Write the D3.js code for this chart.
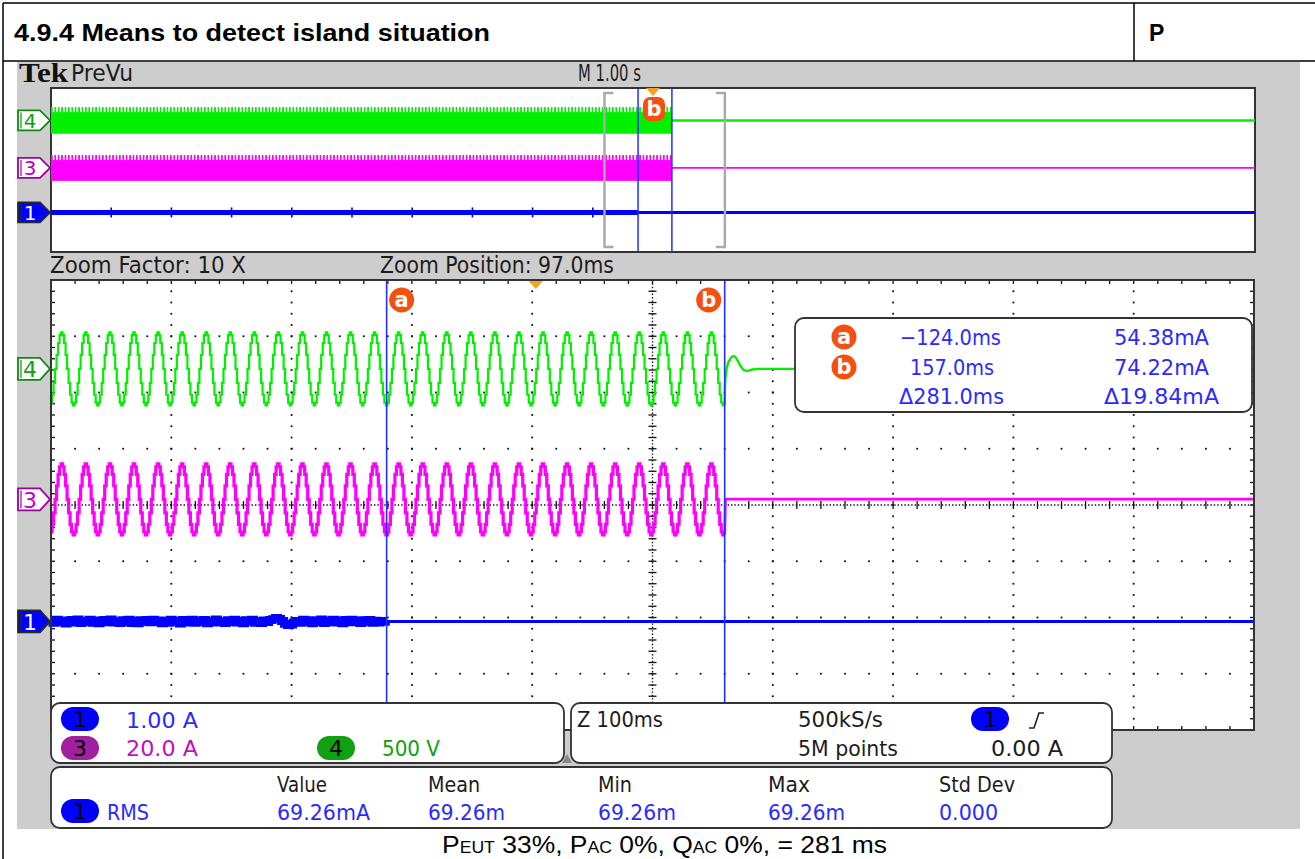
<!DOCTYPE html>
<html><head><meta charset="utf-8">
<script src="https://cdn.jsdelivr.net/npm/d3@7"></script>
<style>html,body{margin:0;padding:0;background:#fff;}svg{display:block}</style>
</head><body><svg id="c" width="1315" height="859"></svg>
<script>
// ---------------- data ----------------
const title = "4.9.4 Means to detect island situation";
const verdict = "P";
const channelIds = ["1", "3", "4"];
const channelScaleLabels = ["1.00 A", "20.0 A", "500 V"];
const channelUnitsPerDiv = [1.0, 20.0, 500];
const channelOffsetDiv = [-2.07, 0.1, 2.42];
const timebaseLabel = "M 1.00 s";
const zoomFactorLabel = "Zoom Factor: 10 X";
const zoomPositionLabel = "Zoom Position: 97.0ms";
const zoomPositionMs = 97.0;
const zoomSpanMs = 1000;
const recordSpanS = [-5, 5];
const triggerTimeMs = 0;
const cursorNames = ["a", "b"];
const cursorTimesMs = [-124.0, 157.0];
const cursorTimeLabels = ["\u2212124.0ms", "157.0ms", "\u0394281.0ms"];
const cursorValueLabels = ["54.38mA", "74.22mA", "\u039419.84mA"];
const mainsPeriodMs = 20;
// one mains cycle (16 samples), starting at the negative peak seen at cursor a
const ch4CycleV = [-325, -300, -230, -124, 0, 124, 230, 300, 325, 300, 230, 124, 0, -124, -230, -300];
const ch3CycleA = [-12.6, -11.6, -8.9, -4.8, 0, 4.8, 8.9, 11.6, 12.6, 11.6, 8.9, 4.8, 0, -4.8, -8.9, -11.6];
// ch4 after the island is detected: [ms after cursor b, volts]
const ch4AfterIsland = [[0, -325], [0.4, -120], [2, 20], [5, 95], [7.5, 115], [10, 88], [13, 30], [16, -12], [19, -18], [23, -6], [28, 0], [440, 0]];
const ch3AfterIslandA = 0.1;
// ch1 current noise, one value every 2.5 ms from the left edge of the zoom up to cursor a (mA)
const ch1NoiseMa = [12, -25, 30, -10, 18, -35, 8, 26, -18, 34, -28, 10, -6, 28, -22, 16, -30, 8, 24, -14,
  36, -20, 4, -28, 20, -8, 30, -26, 12, -34, 22, -4, 26, -16, 32, -10, 18, -30, 14, -22,
  28, -12, 6, -36, 24, -18, 10, 30, -24, 16, -8, 26, -32, 12, -20, 34, -14, 4, -26, 22,
  -10, 28, -18, 14, -30, 20, -6, 32, -22, 10, -28, 18, -12, 26, 38, 60, 45, 10, -40, -62,
  -55, -20, 8, -24, 30, -16, 22, -34, 12, -8, 36, -26, 18, -12, 28, -20, 6, -30, 24, -14,
  32, -10, 16, -28, 20, -4, 26, -22, 14, -18, 10, -6];
const ch1NoiseStepMs = 2.5;
const ch1SpikeTimesS = [-4.5, -4.0, -3.5, -3.0, -2.5, -2.0, -1.5, -1.0, -0.5];
const acqLabels = ["Z 100ms", "500kS/s", "5M points", "0.00 A"];
const measName = "RMS";
const measHeaders = ["Value", "Mean", "Min", "Max", "Std Dev"];
const measValues = ["69.26mA", "69.26m", "69.26m", "69.26m", "0.000"];
const captionParts = [["P", 0], ["EUT", 1], [" 33%, P", 0], ["AC", 1], [" 0%, Q", 0], ["AC", 1], [" 0%, = 281 ms", 0]];

// ---------------- styles ----------------
const SCOPE_FONT = "'DejaVu Sans', sans-serif";
const ARIAL = "'Liberation Sans', Arial, sans-serif";
const C_GREEN = "#00f000", C_MAG = "#ff00ff", C_BLUE = "#0000ff";
const C_ORANGE = "#f5500f", C_TRIG = "#f6a11e";
const TXT = "#1c1c1c", TXT_BLUE = "#2a2aff";

const svg = d3.select("#c");

function label(p, x, y, s, o = {}) {
  const t = p.append("text").attr("x", x).attr("y", y).text(s)
    .attr("font-family", o.font || SCOPE_FONT)
    .attr("font-size", o.size || 21)
    .attr("fill", o.color || TXT);
  if (o.anchor) t.attr("text-anchor", o.anchor);
  if (o.weight) t.attr("font-weight", o.weight);
  if (o.len) t.attr("textLength", o.len).attr("lengthAdjust", "spacingAndGlyphs");
  return t;
}

// ---------- page table ----------
svg.append("rect").attr("x", 17).attr("y", 62).attr("width", 1283).attr("height", 767).attr("fill", "#cdcdcd");
const tbl = svg.append("g").attr("stroke", "#000").attr("stroke-width", 1.5);
tbl.append("line").attr("x1", 3).attr("x2", 1315).attr("y1", 3).attr("y2", 3);
tbl.append("line").attr("x1", 3).attr("x2", 1315).attr("y1", 61).attr("y2", 61);
tbl.append("line").attr("x1", 3).attr("x2", 3).attr("y1", 3).attr("y2", 859);
tbl.append("line").attr("x1", 1134).attr("x2", 1134).attr("y1", 3).attr("y2", 61);
label(svg, 14, 41, title, { font: ARIAL, size: 23, weight: "bold", color: "#000", len: 476 });
label(svg, 1149, 41, verdict, { font: ARIAL, size: 23, weight: "bold", color: "#000" });

// caption
const cap = svg.append("text").attr("x", 442).attr("y", 853)
  .attr("font-family", ARIAL).attr("font-size", 24).attr("fill", "#000")
  .attr("textLength", 445).attr("lengthAdjust", "spacingAndGlyphs");
captionParts.forEach(([s, sub]) => cap.append("tspan").attr("font-size", sub ? 16 : 24).text(s));

// ---------- header texts ----------
label(svg, 19, 82, "Tek", { font: "'Liberation Serif', serif", size: 27, weight: "bold", color: "#111", len: 49 });
label(svg, 71, 81, "PreVu", { size: 23, len: 62 });
label(svg, 578, 81, timebaseLabel, { size: 23, len: 63 });
label(svg, 50, 273, zoomFactorLabel, { size: 23, len: 196 });
label(svg, 380, 273, zoomPositionLabel, { size: 23, len: 234 });

// ---------- channel flag ----------
function flag(p, cy, h, idx) {
  const id = channelIds[idx];
  const x0 = 18, xb = 40, xp = 50;
  const pts = [[x0, cy - h / 2], [xb, cy - h / 2], [xp, cy], [xb, cy + h / 2], [x0, cy + h / 2]];
  const cfg = {
    "1": { fill: C_BLUE, stroke: "#2a2a2a", txt: "#fff" },
    "3": { fill: "#fff", stroke: "#a000a0", txt: "#c000c0" },
    "4": { fill: "#fff", stroke: "#108a10", txt: "#10a010" }
  }[id];
  p.append("polygon").attr("points", pts.map(d => d.join(",")).join(" "))
    .attr("fill", cfg.fill).attr("stroke", cfg.stroke).attr("stroke-width", 1.8);
  p.append("line").attr("x1", x0 + 3).attr("x2", x0 + 3).attr("y1", cy - h / 2 + 2).attr("y2", cy + h / 2 - 2)
    .attr("stroke", cfg.stroke).attr("stroke-width", 1.2);
  label(p, 30, cy + h * 0.37, id, { size: h * 1.0, color: cfg.txt, anchor: "middle" });
}

// ================= TOP (PreVu) PLOT =================
const TX0 = 51, TX1 = 1255, TY0 = 88, TY1 = 252;
const xTop = d3.scaleLinear().domain(recordSpanS).range([TX0, TX1]);
const yTop = d3.scaleLinear().domain([-4, 4]).range([TY1, TY0]);
const topG = svg.append("g");
topG.append("rect").attr("x", TX0).attr("y", TY0).attr("width", TX1 - TX0).attr("height", TY1 - TY0)
  .attr("fill", "#fff").attr("stroke", "#333").attr("stroke-width", 2);

const defs = svg.append("defs");
[["combG", C_GREEN], ["combM", C_MAG]].forEach(([id, c]) => {
  const pat = defs.append("pattern").attr("id", id).attr("width", 3.4).attr("height", 6).attr("patternUnits", "userSpaceOnUse");
  pat.append("rect").attr("width", 1.7).attr("height", 6).attr("fill", c);
});

const islandS = cursorTimesMs[1] / 1000;
function band(idx, cycle, color, comb) {
  const amp = d3.max(cycle) / channelUnitsPerDiv[idx];
  const off = channelOffsetDiv[idx];
  const yT = yTop(off + amp), yB = yTop(off - amp);
  const x0 = xTop(recordSpanS[0]), x1 = xTop(islandS);
  topG.append("rect").attr("x", x0).attr("y", yT).attr("width", x1 - x0).attr("height", 5).attr("fill", `url(#${comb})`);
  topG.append("rect").attr("x", x0).attr("y", yT + 5).attr("width", x1 - x0).attr("height", yB - yT - 5).attr("fill", color);
  topG.append("line").attr("x1", x1).attr("x2", xTop(recordSpanS[1])).attr("y1", yTop(off)).attr("y2", yTop(off))
    .attr("stroke", color).attr("stroke-width", idx === 2 ? 2.5 : 1.8);
}
band(2, ch4CycleV, C_GREEN, "combG");
band(1, ch3CycleA, C_MAG, "combM");
// ch1 on the PreVu
const y1Top = yTop(channelOffsetDiv[0]);
topG.append("line").attr("x1", xTop(recordSpanS[0])).attr("x2", xTop(cursorTimesMs[0] / 1000))
  .attr("y1", y1Top).attr("y2", y1Top).attr("stroke", C_BLUE).attr("stroke-width", 5);
topG.append("line").attr("x1", xTop(cursorTimesMs[0] / 1000)).attr("x2", xTop(recordSpanS[1]))
  .attr("y1", y1Top).attr("y2", y1Top).attr("stroke", C_BLUE).attr("stroke-width", 3);
topG.selectAll(".spk").data(ch1SpikeTimesS).join("line")
  .attr("x1", d => xTop(d)).attr("x2", d => xTop(d)).attr("y1", y1Top - 5).attr("y2", y1Top + 5)
  .attr("stroke", C_BLUE).attr("stroke-width", 1.6);
// zoom bracket
const zb = [(zoomPositionMs - zoomSpanMs / 2) / 1000, (zoomPositionMs + zoomSpanMs / 2) / 1000];
[[zb[0], 1], [zb[1], -1]].forEach(([t, dir]) => {
  const x = xTop(t);
  topG.append("path").attr("d", `M${x + dir * 9},${TY0 + 5} H${x} V${TY1 - 5} H${x + dir * 9}`)
    .attr("fill", "none").attr("stroke", "#aaa").attr("stroke-width", 2.5);
});
// cursors
cursorTimesMs.forEach(t => topG.append("line").attr("x1", xTop(t / 1000)).attr("x2", xTop(t / 1000))
  .attr("y1", TY0).attr("y2", TY1).attr("stroke", "#2030ff").attr("stroke-width", 1.5));
// trigger marker and b badge
const xtT = xTop(triggerTimeMs / 1000);
topG.append("path").attr("d", `M${xtT - 7},${TY0} L${xtT + 7},${TY0} L${xtT},${TY0 + 8} Z`).attr("fill", C_TRIG);
topG.append("rect").attr("x", xtT - 10).attr("y", TY0 + 9).attr("width", 22).attr("height", 24).attr("rx", 7).attr("fill", C_ORANGE);
label(topG, xtT + 1, TY0 + 28, cursorNames[1], { size: 21, weight: "bold", color: "#fff", anchor: "middle" });
flag(svg, yTop(channelOffsetDiv[2]), 20, 2);
flag(svg, yTop(channelOffsetDiv[1]), 20, 1);
flag(svg, yTop(channelOffsetDiv[0]), 20, 0);

// ================= MAIN (zoom) PLOT =================
const MX0 = 51, MX1 = 1254, MY0 = 280, MY1 = 730;
const xMain = d3.scaleLinear().domain([zoomPositionMs - zoomSpanMs / 2, zoomPositionMs + zoomSpanMs / 2]).range([MX0, MX1]);
const yMain = d3.scaleLinear().domain([-4, 4]).range([MY1, MY0]);
const mainG = svg.append("g");
mainG.append("rect").attr("x", MX0).attr("y", MY0).attr("width", MX1 - MX0).attr("height", MY1 - MY0).attr("fill", "#fff");

// graticule
const grid = mainG.append("g").attr("fill", "#111");
const tDiv = zoomSpanMs / 10;
const t0 = xMain.domain()[0];
const majorT = d3.range(11).map(i => t0 + i * tDiv);
const majorV = d3.range(9).map(j => -4 + j);
const minorT = d3.range(51).map(i => t0 + i * tDiv / 5);
const minorV = d3.range(41).map(j => -4 + j * 0.2);
majorT.forEach((t, i) => {
  if (i === 0 || i === 10 || i === 5) return;
  minorV.forEach(v => grid.append("rect").attr("x", xMain(t) - 0.9).attr("y", yMain(v) - 0.9).attr("width", 1.8).attr("height", 1.8));
});
majorV.forEach((v, j) => {
  if (j === 0 || j === 8 || j === 4) return;
  minorT.forEach(t => grid.append("rect").attr("x", xMain(t) - 0.9).attr("y", yMain(v) - 0.9).attr("width", 1.8).attr("height", 1.8));
});
const cx = xMain(majorT[5]), cy = yMain(0);
grid.append("line").attr("x1", cx).attr("x2", cx).attr("y1", MY0).attr("y2", MY1)
  .attr("stroke", "#111").attr("stroke-width", 1.4).attr("stroke-dasharray", "1.4,2");
grid.append("line").attr("x1", MX0).attr("x2", MX1).attr("y1", cy).attr("y2", cy)
  .attr("stroke", "#111").attr("stroke-width", 1.4).attr("stroke-dasharray", "1.4,2");
minorV.forEach(v => grid.append("line").attr("x1", cx - 4).attr("x2", cx + 4).attr("y1", yMain(v)).attr("y2", yMain(v)).attr("stroke", "#111").attr("stroke-width", 1.3));
minorT.forEach(t => grid.append("line").attr("x1", xMain(t)).attr("x2", xMain(t)).attr("y1", cy - 4).attr("y2", cy + 4).attr("stroke", "#111").attr("stroke-width", 1.3));
// border ticks
minorT.forEach(t => {
  grid.append("line").attr("x1", xMain(t)).attr("x2", xMain(t)).attr("y1", MY0).attr("y2", MY0 + 4).attr("stroke", "#111").attr("stroke-width", 1.3);
  grid.append("line").attr("x1", xMain(t)).attr("x2", xMain(t)).attr("y1", MY1 - 4).attr("y2", MY1).attr("stroke", "#111").attr("stroke-width", 1.3);
});
minorV.forEach(v => {
  grid.append("line").attr("x1", MX0).attr("x2", MX0 + 4).attr("y1", yMain(v)).attr("y2", yMain(v)).attr("stroke", "#111").attr("stroke-width", 1.3);
  grid.append("line").attr("x1", MX1 - 4).attr("x2", MX1).attr("y1", yMain(v)).attr("y2", yMain(v)).attr("stroke", "#111").attr("stroke-width", 1.3);
});

// traces
function mainsPoints(cycle) {
  const pts = [];
  const n = cycle.length;
  const tA = cursorTimesMs[0], tEnd = cursorTimesMs[1];
  let k = Math.floor((t0 - tA) / mainsPeriodMs);
  for (; ; k++) {
    for (let i = 0; i < n; i++) {
      const t = tA + (k + i / n) * mainsPeriodMs;
      if (t < t0) continue;
      if (t > tEnd) return pts;
      pts.push([t, cycle[i]]);
    }
  }
}
function yVal(idx, v) { return yMain(channelOffsetDiv[idx] + v / channelUnitsPerDiv[idx]); }
const lineStep = idx => d3.line().x(d => xMain(d[0])).y(d => yVal(idx, d[1])).curve(d3.curveStep);
const lineLin = idx => d3.line().x(d => xMain(d[0])).y(d => yVal(idx, d[1])).curve(d3.curveMonotoneX);

// ch3 (magenta)
const m3 = mainsPoints(ch3CycleA);
m3.push([cursorTimesMs[1], ch3CycleA[0]]);
mainG.append("path").attr("d", lineStep(1)(m3)).attr("fill", "none").attr("stroke", C_MAG).attr("stroke-width", 3.2);
mainG.append("path").attr("d", d3.line().x(d => xMain(d[0])).y(d => yVal(1, d[1]))([
  [cursorTimesMs[1], ch3CycleA[0]], [cursorTimesMs[1] + 0.6, ch3AfterIslandA], [xMain.domain()[1], ch3AfterIslandA]]))
  .attr("fill", "none").attr("stroke", C_MAG).attr("stroke-width", 2.8);
// ch4 (green)
const g4 = mainsPoints(ch4CycleV);
g4.push([cursorTimesMs[1], ch4CycleV[0]]);
mainG.append("path").attr("d", lineStep(2)(g4)).attr("fill", "none").attr("stroke", C_GREEN).attr("stroke-width", 2.2);
mainG.append("path").attr("d", lineLin(2)(ch4AfterIsland.map(d => [cursorTimesMs[1] + d[0], d[1]])))
  .attr("fill", "none").attr("stroke", C_GREEN).attr("stroke-width", 2.4);
// ch1 (blue)
const n1 = ch1NoiseMa.map((v, i) => [t0 + i * ch1NoiseStepMs, v / 1000]).filter(d => d[0] <= cursorTimesMs[0]);
n1.push([cursorTimesMs[0], 0]);
mainG.append("path").attr("d", d3.line().x(d => xMain(d[0])).y(d => yVal(0, d[1])).curve(d3.curveStep)(n1))
  .attr("fill", "none").attr("stroke", C_BLUE).attr("stroke-width", 8);
mainG.append("line").attr("x1", xMain(cursorTimesMs[0])).attr("x2", MX1)
  .attr("y1", yVal(0, 0)).attr("y2", yVal(0, 0)).attr("stroke", C_BLUE).attr("stroke-width", 3);

// cursors
cursorTimesMs.forEach((t, i) => {
  mainG.append("line").attr("x1", xMain(t)).attr("x2", xMain(t)).attr("y1", MY0).attr("y2", MY1)
    .attr("stroke", "#2030ff").attr("stroke-width", 1.6);
});
function badge(p, x, y, s) {
  p.append("circle").attr("cx", x).attr("cy", y).attr("r", 12.5).attr("fill", C_ORANGE);
  label(p, x, y + 7, s, { size: 21, weight: "bold", color: "#fff", anchor: "middle" });
}
badge(mainG, xMain(cursorTimesMs[0]) + 15, 300, cursorNames[0]);
badge(mainG, xMain(cursorTimesMs[1]) - 16, 300, cursorNames[1]);
const xtr = xMain(triggerTimeMs);
mainG.append("path").attr("d", `M${xtr - 8},${MY0} L${xtr + 8},${MY0} L${xtr},${MY0 + 9} Z`).attr("fill", C_TRIG);

mainG.append("rect").attr("x", MX0).attr("y", MY0).attr("width", MX1 - MX0).attr("height", MY1 - MY0)
  .attr("fill", "none").attr("stroke", "#333").attr("stroke-width", 2);

flag(svg, yMain(channelOffsetDiv[2]), 22, 2);
flag(svg, yMain(channelOffsetDiv[1]), 22, 1);
flag(svg, yMain(channelOffsetDiv[0]), 22, 0);

// cursor readout box
function box(p, x, y, w, h) {
  p.append("rect").attr("x", x).attr("y", y).attr("width", w).attr("height", h).attr("rx", 9)
    .attr("fill", "#fff").attr("stroke", "#333").attr("stroke-width", 1.8);
}
box(svg, 795, 318, 457, 94);
badge(svg, 844, 337, cursorNames[0]);
badge(svg, 844, 367, cursorNames[1]);
const rowY = [345, 375, 404];
const tLab = [[900, 101], [910, 84], [899, 105]];
const vLab = [[1114, 95], [1114, 95], [1104, 115]];
cursorTimeLabels.forEach((s, i) => label(svg, tLab[i][0], rowY[i], s, { color: TXT_BLUE, len: tLab[i][1] }));
cursorValueLabels.forEach((s, i) => label(svg, vLab[i][0], rowY[i], s, { color: TXT_BLUE, len: vLab[i][1] }));

// ---------- info boxes ----------
function pill(p, cx, cy, id, fill) {
  p.append("rect").attr("x", cx - 19).attr("y", cy - 12).attr("width", 38).attr("height", 24).attr("rx", 12).attr("fill", fill);
  label(p, cx, cy + 8, id, { size: 22, color: "#000", anchor: "middle" });
}
box(svg, 51, 703, 513, 60);
box(svg, 571, 703, 541, 60);
box(svg, 51, 767, 1061, 61);
svg.append("path").attr("d", "M562,763 L567,754 L572,763 Z").attr("fill", "#888");
pill(svg, 80, 719, channelIds[0], C_BLUE);
label(svg, 126, 728, channelScaleLabels[0], { color: TXT_BLUE, len: 72 });
pill(svg, 80, 748, channelIds[1], "#a020a0");
label(svg, 126, 756, channelScaleLabels[1], { color: "#c010c0", len: 72 });
pill(svg, 336, 748, channelIds[2], "#10a010");
label(svg, 382, 756, channelScaleLabels[2], { color: "#10a010", len: 58 });

label(svg, 577, 727, acqLabels[0], { len: 86 });
label(svg, 798, 727, acqLabels[1], { len: 85 });
label(svg, 798, 756, acqLabels[2], { len: 100 });
pill(svg, 990, 719, channelIds[0], C_BLUE);
svg.append("path").attr("d", "M1029,728 H1034 L1039,713 H1044").attr("fill", "none").attr("stroke", "#222").attr("stroke-width", 1.6);
label(svg, 991, 756, acqLabels[3], { len: 72 });

const colX = [277, 428, 598, 768, 939];
const hdrW = [50, 52, 34, 42, 76];
const valW = [93, 77, 78, 77, 59];
measHeaders.forEach((s, i) => label(svg, colX[i], 792, s, { len: hdrW[i] }));
measValues.forEach((s, i) => label(svg, colX[i], 820, s, { color: TXT_BLUE, len: valW[i] }));
pill(svg, 80, 811, channelIds[0], C_BLUE);
label(svg, 107, 820, measName, { color: TXT_BLUE, len: 42 });
</script></body></html>
